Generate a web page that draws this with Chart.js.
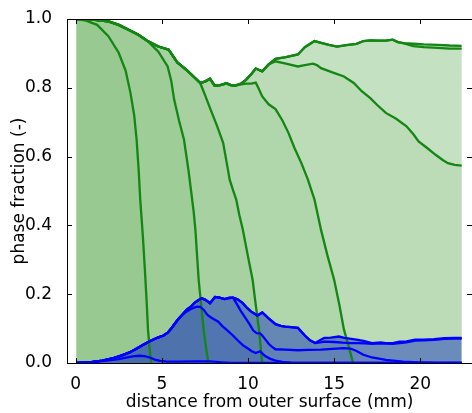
<!DOCTYPE html>
<html>
<head>
<meta charset="utf-8">
<script src="https://cdn.jsdelivr.net/npm/chart.js@4/dist/chart.umd.min.js"></script>
<style>
  html, body { margin: 0; padding: 0; background: #fff; }
  canvas { display: block; }
</style>
</head>
<body>
<canvas id="phase-chart" width="472" height="413"></canvas>
<script>
// tick values
const xTicks = [0, 5, 10, 15, 20];
const yTicks = [0, 0.2, 0.4, 0.6, 0.8, 1.0];

// outer green envelope (latest step)
const topDist = [0.05,1.0,1.9,2.5,3.1,3.64,4.2,4.8,5.4,5.9,6.48,6.9,7.23,7.5,7.8,8.07,8.4,8.75,9.0,9.22,9.6,9.9,10.2,10.45,10.83,11.2,11.6,12.2,12.9,13.3,13.86,14.3,14.7,15.17,15.7,16.3,16.7,17.1,17.6,18.0,18.4,18.7,19.0,19.6,20.2,21.0,21.7,22.4];
const topFrac = [1.0,0.998,0.993,0.983,0.968,0.954,0.935,0.92,0.911,0.874,0.85,0.83,0.814,0.818,0.826,0.806,0.808,0.813,0.808,0.806,0.812,0.824,0.84,0.856,0.848,0.868,0.884,0.889,0.897,0.918,0.936,0.93,0.925,0.92,0.924,0.928,0.936,0.938,0.937,0.937,0.94,0.933,0.93,0.928,0.926,0.925,0.923,0.922];
// the step before it, splits off past 19 mm
const top2Dist = [19.6,20.2,21.0,21.7,22.4];
const top2Frac = [0.921,0.918,0.916,0.914,0.914];

// green step 1 (own curve)
const distA = [0.05,0.6,1.25,1.9,2.5,2.9,3.18,3.4,3.54,3.66,3.75,3.9,4.02,4.12,4.2,4.3,4.38];
const fracA = [1.0,0.995,0.983,0.95,0.902,0.85,0.786,0.72,0.649,0.56,0.475,0.37,0.271,0.18,0.097,0.04,0.0];
// green steps 2..5, tails after leaving the envelope
const distB = [4.8,5.34,5.55,5.72,6.0,6.29,6.55,6.7,6.85,6.95,7.05,7.14,7.3,7.43,7.58,7.71];
const fracB = [0.905,0.862,0.82,0.765,0.705,0.649,0.56,0.5,0.44,0.388,0.31,0.242,0.16,0.097,0.04,0.0];
const distC = [7.5,7.8,8.2,8.56,8.8,8.94,9.12,9.32,9.5,9.7,10.0,10.27,10.45,10.64,10.75,10.83];
const fracC = [0.78,0.741,0.69,0.64,0.573,0.533,0.505,0.475,0.43,0.388,0.31,0.242,0.17,0.097,0.04,0.0];
const distD = [9.6,9.9,10.2,10.45,10.6,10.83,11.2,11.6,12.0,12.35,12.7,13.1,13.48,13.86,14.24,14.6,15.0,15.3,15.57,15.85,16.1];
const fracD = [0.81,0.812,0.812,0.815,0.8,0.775,0.752,0.738,0.705,0.669,0.625,0.581,0.533,0.475,0.387,0.315,0.242,0.17,0.097,0.048,0.0];
const distE = [11.6,12.2,12.9,13.3,13.77,14.0,14.24,14.9,15.57,16.14,16.6,17.1,17.5,18.0,18.6,19.2,19.6,19.9,20.4,20.87,21.3,21.6,22.0,22.4];
const fracE = [0.877,0.87,0.862,0.866,0.87,0.866,0.857,0.845,0.833,0.814,0.79,0.77,0.75,0.727,0.71,0.688,0.665,0.644,0.625,0.606,0.59,0.581,0.576,0.574];

// blue phase, outermost curve
const bTopDist = [0.05,0.8,1.55,2.2,2.69,3.1,3.45,3.9,4.3,4.77,5.1,5.34,5.55,5.72,5.95,6.19,6.45,6.67,6.9,7.14,7.33,7.55,7.8,8.09,8.35,8.65,8.9,9.13,9.4,9.7,9.95,10.17,10.55,10.83,11.2,11.6,11.9,12.16,12.5,12.9,13.3,13.6,13.9,14.2,14.43,14.8,15.28,15.6,16.0,16.3,16.7,17.2,17.7,18.0,18.4,18.8,19.2,19.7,20.2,20.8,21.4,22.0,22.4];
const bTopFrac = [0,0.002,0.007,0.014,0.022,0.03,0.039,0.052,0.063,0.074,0.08,0.088,0.1,0.112,0.127,0.14,0.155,0.163,0.175,0.183,0.188,0.183,0.174,0.192,0.19,0.186,0.189,0.19,0.185,0.174,0.16,0.15,0.138,0.147,0.13,0.113,0.108,0.106,0.104,0.102,0.08,0.066,0.058,0.067,0.073,0.074,0.077,0.073,0.07,0.068,0.064,0.058,0.06,0.058,0.058,0.062,0.063,0.068,0.068,0.069,0.072,0.073,0.073];
// blue step 1 (own curve), steps 2..4 as tails
const b1Dist = [0.05,1.0,1.8,2.5,3.0,3.4,3.7,4.0,4.3,4.6,4.9,5.3,6.0,7.0,7.8,8.5,9.0,22.4];
const b1Frac = [0,0.003,0.007,0.011,0.016,0.02,0.021,0.02,0.016,0.01,0.006,0.004,0.004,0.005,0.005,0.002,0,0];
const b2Dist = [6.45,6.67,6.86,7.05,7.23,7.43,7.65,7.9,8.28,8.5,8.75,9.13,9.4,9.7,10.0,10.2,10.45,10.7,11.0,11.3,11.6,12.0,12.5,13.3,22.4];
const b2Frac = [0.15,0.156,0.161,0.164,0.163,0.155,0.14,0.131,0.12,0.108,0.097,0.08,0.066,0.052,0.042,0.035,0.029,0.034,0.02,0.012,0.007,0.003,0.001,0,0];
const b3Dist = [9.35,9.6,9.89,10.1,10.3,10.5,10.7,10.83,11.02,11.2,11.4,11.6,12.16,12.9,13.5,14.24,14.9,15.57,15.95,16.3,16.7,17.2,18.0,19.0,19.9,21.0,22.4];
const b3Frac = [0.172,0.15,0.128,0.112,0.095,0.087,0.086,0.08,0.068,0.056,0.047,0.04,0.039,0.037,0.038,0.039,0.041,0.043,0.042,0.035,0.024,0.016,0.009,0.004,0.002,0,0];
const b4Dist = [14.2,14.43,15.0,15.5,15.95,16.4,16.8,17.2,17.7,18.4,19.2,19.7,20.2,20.8,21.4,22.0,22.4];
const b4Frac = [0.06,0.062,0.061,0.059,0.058,0.058,0.057,0.056,0.057,0.056,0.06,0.065,0.066,0.067,0.07,0.071,0.071];

function toPoints(dist, frac) {
  return dist.map((d, i) => ({ x: d, y: frac[i] }));
}
// follow a parent curve up to splitAt, then continue with the tail
function branch(dist, frac, splitAt, tailDist, tailFrac) {
  const pts = [];
  dist.forEach((d, i) => { if (d <= splitAt) pts.push({ x: d, y: frac[i] }); });
  return pts.concat(toPoints(tailDist, tailFrac));
}

const GREEN_LINE = '#138613';
const BLUE_LINE = '#0000ff';
function greenSet(data, fillColor) {
  return { data, borderColor: GREEN_LINE, borderWidth: 2.3, backgroundColor: fillColor, fill: 'origin', pointRadius: 0 };
}
function blueSet(data, fillColor) {
  return { data, borderColor: BLUE_LINE, borderWidth: 2.3, backgroundColor: fillColor, fill: 'origin', pointRadius: 0 };
}

// later datasets are painted first, so the widest green goes last
const datasets = [
  blueSet(toPoints(b1Dist, b1Frac), 'rgba(10,40,190,0.05)'),
  blueSet(branch(bTopDist, bTopFrac, 6.19, b2Dist, b2Frac), 'rgba(10,40,190,0.12)'),
  blueSet(branch(bTopDist, bTopFrac, 9.13, b3Dist, b3Frac), 'rgba(10,40,190,0.05)'),
  blueSet(branch(bTopDist, bTopFrac, 13.9, b4Dist, b4Frac), 'rgba(10,40,190,0.0)'),
  blueSet(toPoints(bTopDist, bTopFrac), 'rgba(10,40,190,0.45)'),
  greenSet(toPoints(distA, fracA), '#97c991'),
  greenSet(branch(topDist, topFrac, 4.2, distB, fracB), '#9fcd98'),
  greenSet(branch(topDist, topFrac, 7.23, distC, fracC), '#a7d1a1'),
  greenSet(branch(topDist, topFrac, 9.22, distD, fracD), '#b0d6ab'),
  greenSet(branch(topDist, topFrac, 11.2, distE, fracE), '#bbdcb7'),
  greenSet(branch(topDist, topFrac, 19.0, top2Dist, top2Frac), '#c4e2c1'),
  greenSet(toPoints(topDist, topFrac), '#c4e2c1')
];

// frame and inward ticks, drawn over the data
const frameTicks = {
  id: 'frameTicks',
  afterDatasetsDraw(chart) {
    const { ctx, chartArea: a, scales } = chart;
    ctx.save();
    ctx.strokeStyle = '#000';
    ctx.lineWidth = 1;
    ctx.strokeRect(a.left + 0.5, a.top + 0.5, a.right - a.left, a.bottom - a.top);
    ctx.beginPath();
    xTicks.forEach(v => {
      const px = Math.round(scales.x.getPixelForValue(v)) + 0.5;
      ctx.moveTo(px, a.bottom); ctx.lineTo(px, a.bottom - 5);
      ctx.moveTo(px, a.top); ctx.lineTo(px, a.top + 5);
    });
    yTicks.forEach(v => {
      const py = Math.round(scales.y.getPixelForValue(v)) + 0.5;
      ctx.moveTo(a.left, py); ctx.lineTo(a.left + 5, py);
      ctx.moveTo(a.right, py); ctx.lineTo(a.right - 5, py);
    });
    ctx.stroke();
    ctx.restore();
  }
};

const font = { family: 'DejaVu Sans', size: 17 };

new Chart(document.getElementById('phase-chart'), {
  type: 'line',
  data: { datasets },
  options: {
    responsive: false,
    animation: false,
    events: [],
    layout: { padding: { top: 19, right: -8, left: 0, bottom: 0 } },
    plugins: {
      legend: { display: false },
      tooltip: { enabled: false },
      filler: { drawTime: 'beforeDatasetsDraw' }
    },
    elements: { line: { tension: 0 } },
    scales: {
      x: {
        type: 'linear',
        min: -0.5,
        max: 23,
        grid: { display: false },
        border: { display: false },
        afterBuildTicks: axis => { axis.ticks = xTicks.map(v => ({ value: v })); },
        afterFit: axis => { axis.height = 50; },
        ticks: { color: '#000', font, padding: 3, maxRotation: 0, callback: v => String(v) },
        title: { display: true, text: 'distance from outer surface (mm)', color: '#000', font, padding: { top: 3, bottom: 0 } }
      },
      y: {
        type: 'linear',
        min: 0,
        max: 1,
        grid: { display: false },
        border: { display: false },
        afterBuildTicks: axis => { axis.ticks = yTicks.map(v => ({ value: v })); },
        afterFit: axis => { axis.width = 67; },
        ticks: { color: '#000', font, padding: 7, callback: v => Number(v).toFixed(1) },
        title: { display: true, text: 'phase fraction (-)', color: '#000', font, padding: { top: 9, bottom: 0 } }
      }
    }
  },
  plugins: [frameTicks]
});
</script>
</body>
</html>
